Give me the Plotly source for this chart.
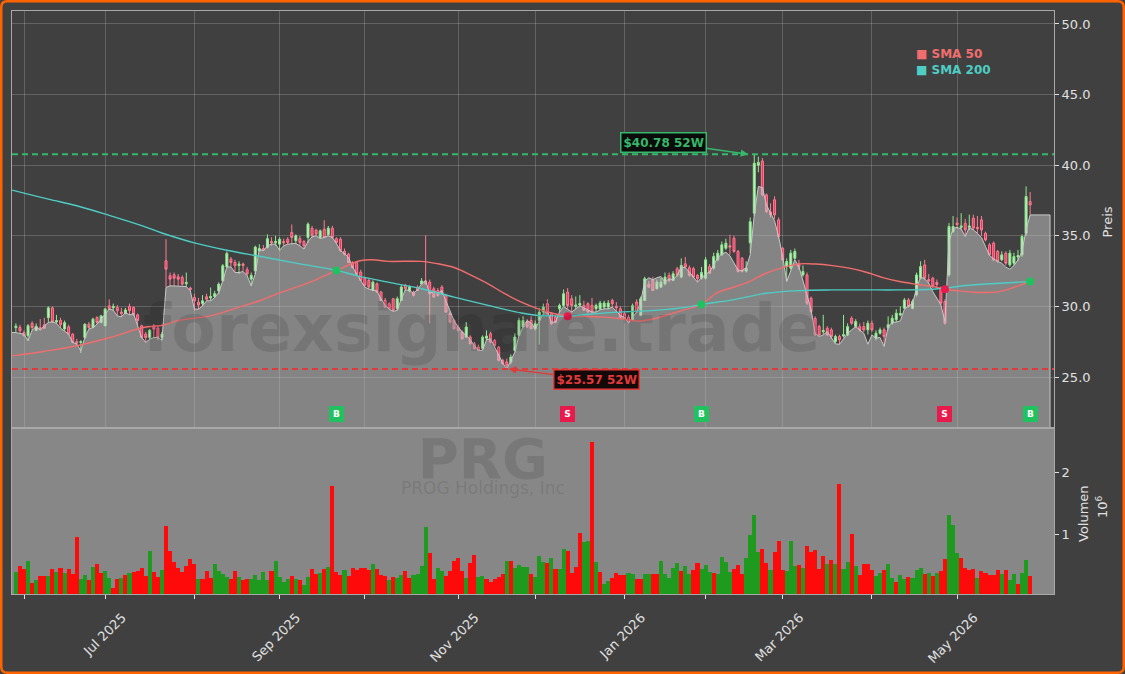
import plotly.graph_objects as go

# ------------------------------------------------------------------ data
opens = [
28.50,28.51,28.15,27.92,28.80,28.30,28.50,28.70,29.20,29.90,
28.90,29.00,28.40,28.55,28.04,27.50,27.45,27.80,28.74,28.51,
29.22,28.86,28.63,30.04,29.90,29.92,29.60,29.50,30.00,29.92,
29.40,28.63,28.04,27.80,28.63,28.46,27.80,33.23,32.17,32.24,
32.10,32.05,31.60,31.30,30.63,30.30,30.20,30.68,30.60,30.70,
31.10,31.81,32.80,33.35,33.11,32.90,33.00,32.60,31.93,32.52,
33.94,34.10,34.17,34.60,34.50,34.41,34.60,34.76,35.24,34.65,
34.80,34.60,34.88,35.54,35.40,34.88,35.47,35.07,35.54,34.80,
34.76,33.90,33.70,33.10,33.11,32.43,32.00,31.84,31.13,31.60,
31.02,30.42,30.19,30.54,29.83,30.42,31.49,31.10,31.02,31.37,
31.60,31.80,31.72,31.25,31.13,31.37,30.78,29.48,29.01,28.54,
28.18,27.83,27.83,27.36,27.12,27.00,27.75,28.06,27.59,27.12,
26.18,26.06,26.06,26.88,27.95,28.54,28.89,29.01,28.42,29.01,
29.60,30.19,29.48,29.24,29.83,30.07,31.02,30.54,30.00,30.10,
30.07,30.19,30.07,29.83,29.83,29.95,29.95,30.42,30.00,29.83,
29.48,29.24,29.01,30.31,29.36,30.42,31.56,31.84,31.25,31.37,
31.60,32.20,31.84,32.67,32.08,33.02,32.74,32.67,32.20,32.00,
32.00,32.82,32.71,33.30,33.65,34.12,34.30,34.83,33.89,33.41,
32.50,34.50,36.60,40.00,40.30,37.90,36.70,37.55,36.13,34.12,
32.82,32.71,33.41,33.00,32.23,32.23,30.58,29.16,28.57,28.20,
28.46,28.34,27.51,27.87,27.90,27.98,29.16,28.57,28.57,28.57,
28.34,28.81,27.75,28.10,28.34,28.50,28.81,29.05,29.40,29.87,
30.46,29.87,30.82,32.00,32.94,31.90,32.00,31.70,31.29,30.34,
32.23,35.30,35.90,35.60,35.89,35.60,36.25,35.60,36.13,35.18,
34.36,34.48,33.89,33.30,33.77,32.94,33.06,33.50,33.65,35.18,
37.43]
highs = [
28.80,28.70,28.30,28.75,28.95,28.80,29.10,29.20,30.00,30.00,
29.40,29.20,29.00,28.70,28.10,27.70,27.60,28.80,28.90,29.20,
29.30,29.40,29.90,30.50,30.20,30.10,29.90,29.90,30.20,30.00,
29.50,28.70,28.20,28.40,28.75,28.60,28.20,34.76,32.40,32.40,
32.30,32.20,32.40,31.40,30.90,30.60,30.80,30.90,31.34,31.10,
31.70,33.00,33.90,33.50,33.30,33.20,33.10,32.80,32.40,34.30,
34.40,34.35,35.10,34.90,35.00,34.90,34.80,34.90,35.80,35.10,
35.00,34.70,35.95,35.70,35.50,35.45,36.10,35.70,35.70,34.90,
34.90,34.10,33.80,33.20,33.20,32.60,32.10,32.00,31.85,31.70,
31.10,30.60,30.30,30.60,30.70,31.50,31.60,31.50,31.10,31.50,
32.00,35.03,31.90,31.40,31.30,31.50,30.90,29.60,29.10,28.70,
28.30,28.90,27.95,27.50,27.30,27.95,28.30,28.20,27.70,27.20,
26.30,26.30,26.60,28.10,29.20,29.30,29.10,29.30,29.00,29.90,
30.20,30.50,29.60,29.40,30.20,31.20,31.30,30.80,30.70,30.80,
30.40,30.30,30.60,30.20,30.40,30.40,30.45,30.55,30.30,30.00,
29.60,29.40,30.20,30.50,30.70,32.10,31.80,32.10,31.90,32.00,
32.40,32.40,32.50,32.80,33.40,33.50,32.90,32.80,32.30,32.80,
33.50,33.00,33.80,34.00,34.60,34.80,35.07,35.00,34.00,33.50,
33.20,36.30,40.78,40.60,40.50,38.00,37.30,37.80,36.30,34.20,
33.40,34.00,34.10,33.30,32.90,32.40,30.70,29.30,28.70,29.40,
28.60,28.50,28.00,28.00,29.40,28.80,29.30,29.10,28.80,28.90,
29.00,29.00,28.30,28.50,28.50,29.30,29.40,29.80,30.00,30.60,
30.60,30.50,32.40,33.20,33.30,32.30,32.10,31.90,31.40,30.50,
35.90,36.40,36.30,36.60,36.20,36.50,36.50,36.40,36.40,35.30,
34.50,34.60,34.00,33.90,33.90,34.00,33.80,34.00,35.10,38.50,
38.10]
lows = [
28.15,28.10,27.85,27.56,28.30,28.25,28.30,28.40,28.86,28.85,
28.80,28.45,28.27,28.00,27.40,27.30,26.70,27.70,28.39,28.45,
28.74,28.80,28.60,29.75,29.70,29.33,29.25,29.45,29.40,29.35,
28.60,27.75,27.45,27.68,27.80,27.60,27.60,31.34,31.46,31.46,
31.46,31.46,31.40,31.10,29.70,29.80,30.00,30.40,30.40,30.60,
30.87,31.80,32.76,32.80,32.40,32.30,32.47,32.17,31.46,32.29,
33.90,33.94,34.10,34.30,34.30,33.95,34.29,34.40,34.41,34.46,
34.29,34.06,34.50,34.88,35.00,34.80,34.85,35.00,34.80,34.41,
33.90,33.60,33.10,32.70,32.20,31.80,31.37,31.23,31.10,30.95,
30.40,29.90,29.80,29.65,29.72,30.40,31.10,31.00,30.70,31.10,
31.55,31.55,28.80,30.60,30.70,30.80,29.55,28.80,28.35,28.20,
27.65,27.80,27.30,26.95,26.85,26.88,27.60,27.40,27.10,26.10,
25.90,25.57,25.90,26.80,27.90,28.50,28.50,28.40,28.30,27.30,
29.50,29.40,28.70,28.80,29.60,30.00,29.85,29.60,29.80,30.00,
29.70,29.55,29.50,29.60,29.75,29.80,29.80,29.95,29.65,29.20,
29.10,28.80,28.95,29.55,29.30,30.40,31.30,31.10,31.20,31.30,
31.50,31.70,31.80,32.10,32.00,32.70,32.10,32.00,31.70,31.90,
31.90,32.30,32.60,33.20,33.60,34.00,33.65,33.80,32.40,32.40,
32.40,33.80,36.40,39.50,37.80,36.60,36.30,36.20,34.80,33.20,
31.80,32.60,33.30,32.60,32.10,30.10,29.50,27.90,27.90,28.00,
27.90,27.70,27.40,27.30,27.80,27.90,28.70,28.50,28.20,28.20,
28.00,28.20,27.60,28.00,27.20,28.30,28.70,28.90,29.30,29.80,
29.90,29.80,30.70,31.90,31.90,31.60,31.30,31.30,30.10,28.70,
32.10,35.20,35.50,35.40,35.00,35.40,35.40,35.20,35.00,34.60,
33.60,33.20,33.10,33.20,32.90,32.80,32.90,33.20,33.50,35.00,
36.50]
closes = [
28.60,28.27,27.92,28.63,28.50,28.60,28.40,28.45,29.90,28.90,
29.00,28.70,28.85,28.04,27.45,27.40,27.50,28.74,28.51,29.10,
28.86,29.33,29.81,29.81,30.00,29.69,29.50,29.75,29.70,29.40,
29.00,27.80,27.80,28.30,28.39,27.80,28.04,32.64,31.93,32.00,
31.93,31.58,31.70,31.20,30.40,30.10,30.40,30.51,30.70,30.90,
31.58,32.88,33.75,33.11,32.88,33.00,32.90,32.30,32.20,34.20,
34.10,34.00,34.80,34.50,34.60,34.76,34.50,34.53,34.88,35.00,
34.53,34.29,35.83,35.00,35.12,35.35,34.88,35.54,34.88,34.53,
33.94,33.70,33.11,32.75,32.29,31.84,31.50,31.37,31.72,31.02,
30.42,29.95,29.83,29.72,30.54,31.37,31.25,31.37,30.78,31.13,
31.80,31.60,30.90,30.66,30.78,30.90,29.60,28.89,28.42,28.30,
27.71,28.54,27.36,27.00,26.88,27.83,27.90,27.47,27.24,26.18,
25.94,25.80,26.41,27.83,29.01,29.00,28.54,28.42,28.77,29.60,
29.95,29.48,28.77,28.89,30.07,30.90,30.07,30.07,30.10,30.20,
29.72,29.60,29.60,30.07,30.24,30.24,30.24,30.19,29.90,29.24,
29.13,28.89,30.07,29.60,30.54,31.96,31.37,31.13,31.72,31.72,
32.08,31.84,32.31,32.20,32.90,32.79,32.20,32.08,31.96,32.40,
33.30,32.35,33.53,33.77,34.36,34.48,34.20,33.89,32.47,32.47,
32.70,36.00,40.14,40.20,37.90,36.72,36.50,36.48,34.95,33.30,
33.18,33.77,33.89,32.80,32.47,30.23,29.64,27.98,27.98,28.30,
27.98,27.87,27.87,27.63,28.00,28.57,28.81,28.93,28.34,28.34,
28.81,28.34,28.10,28.34,27.87,28.70,29.16,29.52,29.50,30.46,
29.99,30.34,32.23,32.82,32.00,31.80,31.41,31.55,30.23,28.81,
35.66,35.66,35.80,35.70,35.42,35.70,35.54,35.50,35.42,34.71,
33.65,33.30,33.18,33.65,33.06,33.77,33.53,33.60,34.95,37.78,
37.19]
# level of the shaded price area (light outline)
area_level = [
28.15,28.08,28.04,27.56,28.32,28.56,28.32,28.63,28.86,28.91,
28.80,28.46,28.27,28.04,27.45,27.33,26.86,27.80,28.39,28.51,
28.74,29.10,29.45,29.81,29.74,29.33,29.26,29.57,29.40,29.50,
28.63,27.80,27.45,27.68,27.80,27.80,27.61,31.34,31.46,31.46,
31.46,31.46,31.41,31.10,29.81,29.81,30.04,30.40,30.40,30.63,
30.99,31.81,32.80,32.80,32.40,32.40,32.47,32.17,31.46,32.29,
34.06,33.94,34.29,34.41,34.41,33.98,34.29,34.41,34.46,34.46,
34.29,34.06,34.60,34.93,35.00,34.81,34.88,35.00,34.88,34.46,
33.94,33.75,33.47,32.80,32.29,31.84,31.37,31.23,31.18,31.09,
30.54,30.09,29.81,29.65,29.72,30.54,31.18,31.13,30.94,31.18,
31.60,31.84,30.90,31.09,30.94,31.13,30.38,29.67,29.00,28.54,
28.18,27.95,27.64,27.24,26.88,26.88,27.64,27.71,27.12,26.53,
25.99,25.57,26.18,26.77,27.95,28.54,29.00,28.82,28.42,28.90,
29.48,29.67,28.89,28.89,29.60,30.00,29.83,29.60,29.83,30.05,
29.90,29.76,29.60,29.60,29.76,29.83,29.83,29.95,29.67,29.36,
29.20,28.82,29.24,29.60,30.31,31.79,32.03,31.89,32.03,32.12,
31.72,31.96,31.89,32.20,32.79,32.74,32.43,32.08,31.72,32.05,
32.28,32.47,32.94,33.46,33.70,33.84,33.58,33.06,32.57,32.54,
32.75,33.65,36.48,38.49,38.42,37.19,36.60,36.06,34.95,33.53,
31.76,32.47,33.30,32.82,31.88,30.82,29.75,28.10,27.87,27.98,
28.22,27.75,27.35,27.32,27.75,28.10,28.34,28.57,28.34,28.10,
27.32,27.98,27.75,27.80,27.16,28.57,28.88,28.88,28.98,29.80,
30.04,30.18,31.29,32.09,31.95,31.64,31.05,30.58,30.11,28.93,
34.59,35.54,35.59,35.49,34.95,35.59,35.42,35.18,34.88,34.24,
33.60,33.37,33.18,33.06,32.78,32.63,32.89,33.30,33.89,35.42,
36.48]
# volume in millions of shares, and bar colour (g = up day, r = down day)
volume_m = [
.39,.49,.44,.57,.21,.26,.33,.33,.33,.44,
.39,.46,.38,.44,.36,.96,.28,.34,.26,.47,
.52,.38,.41,.30,.14,.28,.30,.35,.38,.39,
.41,.46,.32,.73,.39,.31,.42,1.13,.73,.55,
.46,.39,.49,.60,.52,.28,.28,.41,.30,.52,
.41,.36,.31,.28,.41,.31,.26,.28,.28,.34,
.26,.39,.26,.41,.57,.31,.23,.28,.33,.28,
.26,.18,.31,.44,.36,.38,.44,.47,1.78,.39,
.34,.42,.33,.46,.42,.46,.46,.42,.52,.44,
.34,.33,.26,.31,.30,.34,.41,.30,.34,.36,
.49,1.12,.70,.28,.46,.41,.33,.41,.57,.62,
.41,.30,.54,.67,.31,.33,.28,.23,.28,.31,
.36,.57,.57,.46,.50,.47,.47,.36,.31,.65,
.55,.54,.62,.44,.44,.76,.73,.38,.47,1.02,
.88,.89,2.48,.55,.39,.20,.25,.30,.38,.34,
.34,.38,.36,.28,.28,.36,.36,.36,.36,.57,
.36,.30,.46,.54,.41,.49,.36,.42,.54,.44,
.50,.39,.38,.36,.63,.55,.39,.44,.50,.36,
.62,.99,1.31,.71,.76,.54,.42,.71,.89,.42,
.41,.89,.49,.50,.46,.81,.71,.75,.44,.65,
.52,.59,.52,1.81,.44,.55,1.01,.49,.34,.52,
.52,.42,.33,.38,.42,.52,.30,.23,.34,.28,
.31,.30,.42,.46,.36,.38,.33,.38,.41,.60,
1.31,1.15,.70,.62,.46,.42,.44,.30,.40,.37,
.35,.34,.42,.36,.42,.27,.36,.20,.38,.58,
.32]
volume_dir = ("grrgrgrrgr" "grgrrrggrg" "rrggrrgrgr" "rrrgrrgrrr" "rrrrrgrrrg"
              "gggrrgrrgg" "gggrggggrg" "rggrrgrgrr" "rgrrrrrrgr" "rrgrggrrgg"
              "ggrrggrrrr" "rgrrggrrrr" "rgrggggrgg" "grgrggrrrr" "ggrgrggrrr"
              "rggrrggrrg" "ggggrggrrg" "ggrggggrrr" "ggggrrgrrr" "gggrgrrrrr"
              "grgrggrgrr" "rrggrggrgg" "rgggrgrgrr" "gggrrrrgrr" "rrrgrggrgg" "r")

# moving averages (bar index, value)
sma50_x = [-0.95, 6.75, 15, 23.2, 31.4, 36.3, 39.6, 47.8, 56, 60.1, 64.2, 72.4, 79, 84.8, 88,
           91.7, 99.9, 104, 108.2, 112.3, 116.4, 120.5, 124.6, 128.7, 132.8, 136, 141, 145.1,
           149.2, 153.3, 157.4, 161.5, 165.6, 169, 172.6, 176.7, 180.8, 184.9, 189, 193.1,
           197.2, 201.3, 205.4, 209.6, 213.7, 217.8, 221.9, 226, 229, 232.6, 235.9, 242.4,
           246.5, 250]
sma50_y = [26.5, 26.81, 27.21, 27.8, 28.51, 28.67, 28.98, 29.33, 30.04, 30.4, 30.87, 31.7,
           32.55, 33.23, 33.3, 33.19, 33.19, 33.02, 32.74, 32.2, 31.6, 30.9, 30.3, 29.83,
           29.48, 29.3, 29.29, 29.24, 29.13, 28.96, 29.13, 29.48, 29.83, 30.14, 30.93, 31.34,
           31.76, 32.35, 32.75, 33.01, 33.0, 32.89, 32.71, 32.42, 32.04, 31.76, 31.57, 31.41,
           31.22, 31.1, 31.0, 31.05, 31.41, 31.76]
sma200_x = [-0.95, 8, 15, 23, 31, 36, 44, 52, 60, 68, 79, 84.5, 91.7, 100, 108, 116.4, 124.6,
            128.7, 132.8, 136, 141, 149, 157.4, 165.6, 169, 176.7, 184.9, 193, 201, 209.6,
            217.8, 226, 230, 234, 242.4, 250]
sma200_y = [38.24, 37.6, 37.13, 36.45, 35.72, 35.2, 34.5, 33.98, 33.55, 33.12, 32.55, 32.15,
            31.72, 31.25, 30.66, 30.07, 29.53, 29.36, 29.33, 29.3, 29.45, 29.6, 29.72, 29.95,
            30.14, 30.46, 30.93, 31.12, 31.17, 31.17, 31.17, 31.22, 31.32, 31.48, 31.64, 31.76]

# crossover signals
signal_x = [79, 136, 169, 229, 250]
signal_y = [32.55, 29.30, 30.14, 31.22, 31.76]
signal_kind = ["B", "S", "B", "S", "B"]

high_52w = 40.78
low_52w = 25.57

month_ticks = [2, 22, 44, 65, 86, 109, 128, 150, 170, 189, 211, 232]
month_labels = ["", "Jul 2025", "", "Sep 2025", "", "Nov 2025", "", "Jan 2026", "",
                "Mar 2026", "", "May 2026"]
price_ticks = [25, 30, 35, 40, 45, 50]
price_tick_text = ["25.0", "30.0", "35.0", "40.0", "45.0", "50.0"]
vol_ticks = [1, 2]
vol_tick_text = ["1", "2"]

# ------------------------------------------------------------------ style
W, H = 1125, 674
ML, MR, MT, MB = 12, 71, 11, 80
PW, PH = W - ML - MR, H - MT - MB
VOL_FRAC = 166 / PH
X_RANGE = [-0.96, 255.88]
PRICE_RANGE = [21.39, 50.92]
VOL_RANGE = [0.037, 2.71]
AREA_END = 254.9
SIGNAL_LABEL_Y = 22.38

BG = "#404040"
VOL_BG = "#878787"
GRID = "rgba(255,255,255,0.18)"
SPINE = "#a8a8a8"
TXT = "#e0e0e0"
FONT = "DejaVu Sans"
C_SMA50 = "#f26d6d"
C_SMA200 = "#4ecdc4"
C_BUY = "#1fc25e"
C_SELL = "#e8194b"
C_HI = "#35b86a"
C_LO = "#e03b3b"
WM = "rgba(0,0,0,0.11)"


def px(x):
    return (x - ML) / PW


def py(y):
    return (H - MB - y) / PH


N = len(closes)
idx = list(range(N))

fig = go.Figure()

fig.add_trace(go.Candlestick(
    x=idx, open=opens, high=highs, low=lows, close=closes,
    increasing=dict(line=dict(color="#8fe88f", width=1), fillcolor="#c4f2c4"),
    decreasing=dict(line=dict(color="#ff7a94", width=1), fillcolor="#f2355a"),
    whiskerwidth=0, hoverinfo="skip", showlegend=False, xaxis="x", yaxis="y"))

fig.add_trace(go.Scatter(
    x=[X_RANGE[0]] + idx + [AREA_END, AREA_END],
    y=[area_level[0]] + area_level + [area_level[-1], PRICE_RANGE[0]],
    mode="lines", line=dict(color="#c8c8c8", width=1),
    fill="tozeroy", fillcolor="rgba(200,200,200,0.5)",
    hoverinfo="skip", showlegend=False, xaxis="x", yaxis="y"))

fig.add_trace(go.Scatter(x=sma50_x, y=sma50_y, mode="lines",
                         line=dict(color=C_SMA50, width=1.4, shape="spline"),
                         hoverinfo="skip", showlegend=False))
fig.add_trace(go.Scatter(x=sma200_x, y=sma200_y, mode="lines",
                         line=dict(color=C_SMA200, width=1.4, shape="spline"),
                         hoverinfo="skip", showlegend=False))
fig.add_trace(go.Scatter(
    x=signal_x, y=signal_y, mode="markers",
    marker=dict(size=8, color=[C_BUY if k == "B" else C_SELL for k in signal_kind]),
    hoverinfo="skip", showlegend=False))

fig.add_trace(go.Bar(
    x=idx, y=volume_m,
    marker=dict(color=["#1e9a1e" if d == "g" else "#ff0a0a" for d in volume_dir],
                line=dict(width=0)),
    hoverinfo="skip", showlegend=False, xaxis="x2", yaxis="y2"))

shapes = [
    dict(type="rect", xref="x2 domain", yref="y2 domain", x0=0, x1=1, y0=0, y1=1,
         fillcolor=VOL_BG, line=dict(width=0), layer="below"),
    dict(type="line", xref="x domain", yref="y", x0=0, x1=1, y0=high_52w, y1=high_52w,
         line=dict(color=C_HI, width=2, dash="6px,4px")),
    dict(type="line", xref="x domain", yref="y", x0=0, x1=1, y0=low_52w, y1=low_52w,
         line=dict(color=C_LO, width=2, dash="6px,4px")),
    # divider between the two panels
    dict(type="line", xref="paper", yref="paper", x0=0, x1=1, y0=VOL_FRAC, y1=VOL_FRAC,
         line=dict(color=SPINE, width=2)),
]
# orange frame with rounded corners
r = 6
x0, x1, y0, y1 = 1.25, W - 1.25, 1.25, H - 1.25
pts = (f"M {px(x0+r)},{py(y0)} L {px(x1-r)},{py(y0)} Q {px(x1)},{py(y0)} {px(x1)},{py(y0+r)} "
       f"L {px(x1)},{py(y1-r)} Q {px(x1)},{py(y1)} {px(x1-r)},{py(y1)} "
       f"L {px(x0+r)},{py(y1)} Q {px(x0)},{py(y1)} {px(x0)},{py(y1-r)} "
       f"L {px(x0)},{py(y0+r)} Q {px(x0)},{py(y0)} {px(x0+r)},{py(y0)} Z")
shapes.append(dict(type="path", xref="paper", yref="paper", path=pts,
                   line=dict(color="#ff6400", width=2.5), fillcolor="rgba(0,0,0,0)"))


def txt(text, x, y, size, color, angle=0, xanchor="center", yanchor="middle"):
    return dict(text=text, xref="paper", yref="paper", x=px(x), y=py(y), showarrow=False,
                xanchor=xanchor, yanchor=yanchor, textangle=angle,
                font=dict(family=FONT, size=size, color=color))


ann = [
    txt("<b>forexsignale.trade</b>", 481, 328, 65, WM),
    # ticker and company name as one two-line watermark
    txt("<span style='font-size:56px'><b>PRG</b></span><br>"
        "<span style='font-size:17px'>PROG Holdings, Inc</span>",
        482.5, 500, 12, WM, yanchor="bottom"),
    txt("<b>■ SMA 50</b>", 914, 54, 12, C_SMA50, xanchor="left"),
    txt("<b>■ SMA 200</b>", 914, 70, 12, C_SMA200, xanchor="left"),
    txt("Preis", 1106.5, 222, 13, TXT, angle=-90),
    txt("Volumen", 1083, 514, 13, TXT, angle=-90),
    txt("10<sup>6</sup>", 1102, 507, 13, TXT, angle=-90),
]
# 52-week markers
hi_i = highs.index(max(highs))
lo_i = lows.index(min(lows))
ann.append(dict(text=f"<b>${high_52w:.2f} 52W</b>", x=hi_i - 1.5, y=high_52w, xref="x", yref="y",
                ax=-85, ay=-12, showarrow=True, arrowhead=2, arrowsize=1, arrowwidth=1.5,
                arrowcolor=C_HI, bgcolor="#0b0b0b", bordercolor=C_HI, borderwidth=1.5,
                borderpad=2, font=dict(family=FONT, size=12, color=C_HI)))
ann.append(dict(text=f"<b>${low_52w:.2f} 52W</b>", x=lo_i + 0.5, y=low_52w, xref="x", yref="y",
                ax=88, ay=11, showarrow=True, arrowhead=2, arrowsize=1, arrowwidth=1.5,
                arrowcolor=C_LO, bgcolor="#140808", bordercolor=C_LO, borderwidth=1.5,
                borderpad=2, font=dict(family=FONT, size=12, color=C_LO)))
# buy / sell labels
for sx, k in zip(signal_x, signal_kind):
    c = C_BUY if k == "B" else C_SELL
    ann.append(dict(text=f"<b>{k}</b>", x=sx, y=SIGNAL_LABEL_Y, xref="x", yref="y",
                    showarrow=False, xanchor="center", yanchor="middle",
                    bgcolor=c, bordercolor=c, borderwidth=1, borderpad=1,
                    width=11, height=12, font=dict(family=FONT, size=9, color="white")))

axis_common = dict(zeroline=False, showline=True, mirror=True, linecolor=SPINE, linewidth=1,
                   automargin=False)

fig.update_layout(
    width=W, height=H, margin=dict(l=ML, r=MR, t=MT, b=MB, autoexpand=False),
    paper_bgcolor=BG, plot_bgcolor=BG, showlegend=False, bargap=0,
    font=dict(family=FONT, color=TXT, size=13),
    xaxis=dict(domain=[0, 1], anchor="y", range=X_RANGE, tickvals=month_ticks,
               showticklabels=False, ticks="", showgrid=True, gridcolor=GRID, gridwidth=1,
               rangeslider=dict(visible=False), **axis_common),
    yaxis=dict(domain=[VOL_FRAC, 1], anchor="x", side="right", range=PRICE_RANGE,
               tickvals=price_ticks, ticktext=price_tick_text, ticks="outside", ticklen=4,
               tickcolor=TXT, tickfont=dict(size=13, color=TXT), showgrid=True,
               gridcolor=GRID, gridwidth=1, **axis_common),
    xaxis2=dict(domain=[0, 1], anchor="y2", range=X_RANGE, tickvals=month_ticks,
                ticktext=month_labels, tickangle=-45, ticks="outside", ticklen=4,
                tickcolor=TXT, tickfont=dict(size=13, color=TXT), showgrid=False,
                ticklabelshift=17, ticklabelstandoff=6, **axis_common),
    yaxis2=dict(domain=[0, VOL_FRAC], anchor="x2", side="right", range=VOL_RANGE,
                tickvals=vol_ticks, ticktext=vol_tick_text, ticks="outside", ticklen=4,
                tickcolor=TXT, tickfont=dict(size=13, color=TXT), showgrid=False,
                **axis_common),
    shapes=shapes, annotations=ann,
)

fig.write_html("out.html")
